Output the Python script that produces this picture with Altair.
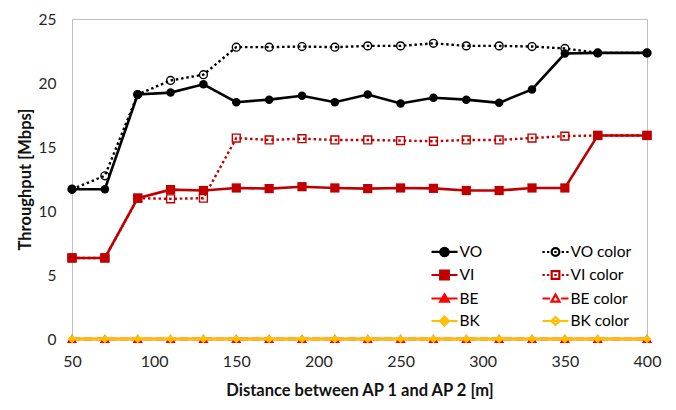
import altair as alt
import pandas as pd

# ---------------- data ----------------
distance = [50, 70, 90, 110, 130, 150, 170, 190, 210, 230, 250, 270, 290, 310, 330, 350, 370, 400]
vo = [11.7, 11.7, 19.1, 19.25, 19.9, 18.5, 18.7, 19.0, 18.5, 19.1, 18.4, 18.85, 18.7, 18.45, 19.5, 22.3, 22.35, 22.35]
vo_color = [11.7, 12.75, 19.1, 20.2, 20.65, 22.8, 22.8, 22.85, 22.8, 22.9, 22.9, 23.1, 22.9, 22.9, 22.85, 22.7, 22.35, 22.35]
vi = [6.33, 6.33, 11.0, 11.67, 11.6, 11.8, 11.75, 11.9, 11.8, 11.75, 11.8, 11.77, 11.6, 11.6, 11.8, 11.8, 15.9, 15.9]
vi_color = [6.33, 6.33, 11.0, 10.95, 11.0, 15.7, 15.55, 15.65, 15.55, 15.55, 15.5, 15.45, 15.55, 15.55, 15.7, 15.85, 15.9, 15.9]
be = [0, 0, 0, 0, 0, 0, 0, 0, 0, 0, 0, 0, 0, 0, 0, 0, 0, 0]
be_color = [0, 0, 0, 0, 0, 0, 0, 0, 0, 0, 0, 0, 0, 0, 0, 0, 0, 0]
bk = [0, 0, 0, 0, 0, 0, 0, 0, 0, 0, 0, 0, 0, 0, 0, 0, 0, 0]
bk_color = [0, 0, 0, 0, 0, 0, 0, 0, 0, 0, 0, 0, 0, 0, 0, 0, 0, 0]

series_names = ["VO", "VO color", "VI", "VI color", "BE", "BE color", "BK", "BK color"]
series_values = [vo, vo_color, vi, vi_color, be, be_color, bk, bk_color]
x_ticks = [50, 100, 150, 200, 250, 300, 350, 400]
y_ticks = [0, 5, 10, 15, 20, 25]

rows = []
for name, vals in zip(series_names, series_values):
    for d, v in zip(distance, vals):
        rows.append({"series": name, "distance": d, "throughput": v})
df = pd.DataFrame(rows)

# ---------------- styles ----------------
BLACK, DARKRED, RED, GOLD = "#000000", "#C00000", "#FF0000", "#FFC000"
DOT = [2.5, 2.8]
styles = {
    "VO":       dict(color=BLACK,   dash=None,  shape="circle",       filled=True,  size=72),
    "VO color": dict(color=BLACK,   dash=DOT,   shape="circle",       filled=False, size=62),
    "VI":       dict(color=DARKRED, dash=None,  shape="square",       filled=True,  size=85),
    "VI color": dict(color=DARKRED, dash=DOT,   shape="square",       filled=False, size=62),
    "BE":       dict(color=RED,     dash=None,  shape="triangle-up",  filled=True,  size=75),
    "BE color": dict(color=RED,     dash=[8, 4], shape="triangle-up", filled=False, size=60),
    "BK":       dict(color=GOLD,    dash=None,  shape="diamond",      filled=True,  size=50),
    "BK color": dict(color=GOLD,    dash=None,  shape="diamond",      filled=False, size=45),
}

FONT = "Lato"

x_enc = alt.X(
    "distance:Q",
    scale=alt.Scale(domain=[50, 400], nice=False, zero=False),
    axis=alt.Axis(values=x_ticks, title="Distance between AP 1 and AP 2 [m]", grid=False,
                  ticks=False, tickSize=0, domain=False, labelPadding=14, titlePadding=13,
                  labelFontSize=16, labelColor="#262626", titleFontSize=16.5,
                  titleFontWeight="bold", titleColor="#111111", labelFlush=False),
)
y_enc = alt.Y(
    "throughput:Q",
    scale=alt.Scale(domain=[0, 25], nice=False),
    axis=alt.Axis(values=y_ticks, title="Throughput [Mbps]", grid=False, ticks=False, tickSize=0,
                  domain=False, labelPadding=16, titlePadding=5, labelFontSize=15.5,
                  labelColor="#262626", titleFontSize=16.5, titleFontWeight="bold",
                  titleColor="#111111"),
)

layers = []
for name in series_names:
    st = styles[name]
    base = alt.Chart(df).transform_filter(alt.datum.series == name)
    line_kw = dict(color=st["color"], strokeWidth=2.6 if st["dash"] is None else 2.4, strokeCap="butt")
    if st["dash"] is not None:
        line_kw["strokeDash"] = st["dash"]
    layers.append(base.mark_line(**line_kw).encode(x=x_enc, y=y_enc))
    if st["filled"]:
        pt = base.mark_point(shape=st["shape"], filled=True, fill=st["color"], size=st["size"], opacity=1)
    else:
        pt = base.mark_point(shape=st["shape"], filled=False, stroke=st["color"], fill="transparent",
                             strokeWidth=1.4, size=st["size"], opacity=1)
    layers.append(pt.encode(x=x_enc, y=y_enc))

# ---------------- legend (symbol = line + marker) ----------------
def dots():
    return "".join(f"M{c - 0.17:.3f},0H{c + 0.17:.3f}" for c in (-1.7, -1.05, 0, 1.05, 1.7))

SOLID = "M-1.857,0H1.857"
DASHED = "M-1.857,0H-0.8M0.8,0H1.857"
CIRC = "M0.6,0A0.6,0.6,0,1,1,-0.6,0A0.6,0.6,0,1,1,0.6,0Z"
HCIRC = "M0.55,0A0.55,0.55,0,1,1,-0.55,0A0.55,0.55,0,1,1,0.55,0Z"
SQ = "M-0.62,-0.62H0.62V0.62H-0.62Z"
HSQ = "M-0.55,-0.55H0.55V0.55H-0.55Z"
TRI = "M0,-0.6L0.62,0.45L-0.62,0.45Z"
HTRI = "M0,-0.58L0.58,0.45L-0.58,0.45Z"
DIA = "M0,-0.62L0.62,0L0,0.62L-0.62,0Z"
HDIA = "M0,-0.58L0.58,0L0,0.58L-0.58,0Z"

legend_paths = [SOLID + CIRC, dots() + HCIRC, SOLID + SQ, dots() + HSQ,
                SOLID + TRI, DASHED + HTRI, SOLID + DIA, SOLID + HDIA]
legend_strokes = [styles[n]["color"] for n in series_names]
legend_fills = [styles[n]["color"] if styles[n]["filled"] else "transparent" for n in series_names]

leg = alt.Legend(title=None, orient="none", legendX=364, legendY=224, columns=2, direction="horizontal",
                 columnPadding=55, rowPadding=4.5, padding=0, labelFont=FONT, labelFontSize=15.5,
                 labelColor="#000000", labelOffset=6.5, symbolSize=196, symbolStrokeWidth=2.2,
                 symbolOpacity=1, symbolFillColor="transparent", symbolStrokeColor="black")

legend_layer = alt.Chart(pd.DataFrame({"series": series_names})).transform_filter("false").mark_point(
    filled=False, size=196
).encode(
    stroke=alt.Stroke("series:N", scale=alt.Scale(domain=series_names, range=legend_strokes), legend=leg),
    fill=alt.Fill("series:N", scale=alt.Scale(domain=series_names, range=legend_fills), legend=leg),
    shape=alt.Shape("series:N", scale=alt.Scale(domain=series_names, range=legend_paths), legend=leg),
)

chart = alt.layer(*layers, legend_layer).properties(
    width=575, height=320,
    autosize=alt.AutoSizeParams(type="none"),
    padding={"left": 64, "top": 11, "right": 15, "bottom": 63},
).configure(font=FONT).configure_view(stroke="#BFBFBF", strokeWidth=1)

chart.save("out.html", embed_options={"renderer": "svg", "actions": False})
